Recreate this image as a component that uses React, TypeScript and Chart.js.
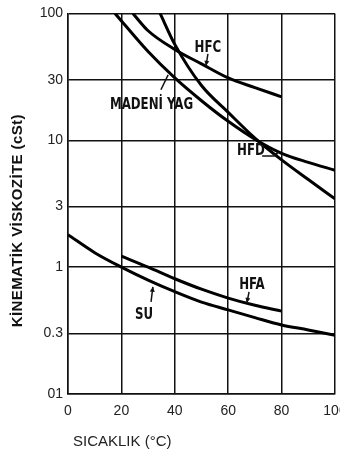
import React, { useEffect, useRef } from "react";
import { Chart, registerables } from "chart.js";

Chart.register(...registerables);

// ---- Data ----
const xTickValues = [0, 20, 40, 60, 80, 100];
const yTickValues = [0.1, 0.3, 1, 3, 10, 30, 100];
const yTickLabels = ["01", "0.3", "1", "3", "10", "30", "100"];

const hfcT = [24.3, 30, 40, 50, 60, 70, 80];
const hfcV = [100, 73, 52, 40, 31, 26, 22];

const madeniT = [17.6, 30, 40, 50, 60, 70, 80, 90, 100];
const madeniV = [100, 50, 31, 20.5, 14.1, 10.2, 7.9, 6.7, 5.8];

const hfdT = [34.5, 40, 50, 60, 70, 80, 90, 100];
const hfdV = [100, 57, 27, 16.6, 10.4, 7.0, 4.9, 3.45];

const hfaT = [20, 30, 40, 50, 60, 70, 80];
const hfaV = [1.22, 1.0, 0.81, 0.67, 0.57, 0.5, 0.45];

const suT = [0, 10, 20, 30, 40, 50, 60, 70, 80, 90, 100];
const suV = [1.8, 1.3, 1.0, 0.79, 0.64, 0.53, 0.46, 0.4, 0.35, 0.32, 0.29];

const xTitle = "SICAKLIK (°C)";
const yTitle = "KİNEMATİK VİSKOZİTE (cSt)";

// annotation labels (anchored in data coordinates)
const labels = [
  { text: "HFC", t: 52.4, v: 54, align: "center" },
  { text: "MADENİ YAG", t: 15.7, v: 19.1, align: "left" },
  { text: "HFD", t: 63.3, v: 8.2, align: "left" },
  { text: "HFA", t: 68.9, v: 0.72, align: "center" },
  { text: "SU", t: 28.5, v: 0.42, align: "center" },
];

// pointer lines: list of [t, v] points, optional arrowhead at end
const pointers = [
  { pts: [[52.4, 47.9], [51.7, 38.6]], head: true },
  { pts: [[34.8, 25], [37.5, 32.8]], head: false },
  { pts: [[72.7, 7.5], [77.2, 7.5], [78.7, 8.06]], head: true },
  { pts: [[67.8, 0.638], [67.0, 0.523]], head: true },
  { pts: [[31.1, 0.533], [31.8, 0.7]], head: true },
];

const toXY = (ts: number[], vs: number[]) => ts.map((t, i) => ({ x: t, y: vs[i] }));

const INK = "#111";
const TEXT = "#222";
const SANS = '"Liberation Sans", Arial, sans-serif';

const annotationPlugin = {
  id: "annotations",
  afterDatasetsDraw(chart: any) {
    const { ctx, scales, chartArea } = chart;
    const xs = scales.x;
    const ys = scales.y;
    ctx.save();
    ctx.fillStyle = INK;
    ctx.strokeStyle = INK;
    ctx.font = 'bold 16px "Liberation Sans Narrow", "DejaVu Sans Condensed", sans-serif';
    ctx.textBaseline = "middle";
    const sx = 0.82;
    for (const l of labels) {
      ctx.save();
      ctx.textAlign = l.align as CanvasTextAlign;
      ctx.translate(xs.getPixelForValue(l.t), ys.getPixelForValue(l.v));
      ctx.scale(sx, 1);
      ctx.fillText(l.text, 0, 0);
      ctx.restore();
    }
    ctx.lineWidth = 1.5;
    for (const p of pointers) {
      const px = p.pts.map(([t, v]) => [xs.getPixelForValue(t), ys.getPixelForValue(v)]);
      ctx.beginPath();
      ctx.moveTo(px[0][0], px[0][1]);
      for (let i = 1; i < px.length; i++) ctx.lineTo(px[i][0], px[i][1]);
      ctx.stroke();
      if (p.head) {
        const [x1, y1] = px[px.length - 2];
        const [x2, y2] = px[px.length - 1];
        const a = Math.atan2(y2 - y1, x2 - x1);
        const L = 5, W = 2.5;
        ctx.beginPath();
        ctx.moveTo(x2, y2);
        ctx.lineTo(x2 - L * Math.cos(a) + W * Math.sin(a), y2 - L * Math.sin(a) - W * Math.cos(a));
        ctx.lineTo(x2 - L * Math.cos(a) - W * Math.sin(a), y2 - L * Math.sin(a) + W * Math.cos(a));
        ctx.closePath();
        ctx.fill();
      }
    }
    // axis titles
    ctx.fillStyle = TEXT;
    ctx.font = "15px " + SANS;
    ctx.textAlign = "left";
    ctx.textBaseline = "middle";
    ctx.fillText(xTitle, chartArea.left + 5, chartArea.bottom + 48);
    ctx.save();
    ctx.translate(18, (chartArea.top + chartArea.bottom) / 2 + 17);
    ctx.rotate(-Math.PI / 2);
    ctx.font = "bold 15px " + SANS;
    ctx.fillStyle = INK;
    ctx.textAlign = "center";
    (ctx as any).letterSpacing = "0.4px";
    ctx.fillText(yTitle, 0, 0);
    ctx.restore();
    ctx.restore();
  },
};

export default function App() {
  const ref = useRef<HTMLCanvasElement>(null);
  useEffect(() => {
    document.body.style.margin = "0";
    const line = (data: any) => ({
      data,
      borderColor: "#000",
      borderWidth: 3,
      pointRadius: 0,
      fill: false,
      cubicInterpolationMode: "monotone" as const,
      tension: 0.4,
    });
    const chart = new Chart(ref.current!, {
      type: "line",
      data: {
        datasets: [
          { label: "HFC", ...line(toXY(hfcT, hfcV)) },
          { label: "MADENİ YAG", ...line(toXY(madeniT, madeniV)) },
          { label: "HFD", ...line(toXY(hfdT, hfdV)) },
          { label: "HFA", ...line(toXY(hfaT, hfaV)) },
          { label: "SU", ...line(toXY(suT, suV)) },
        ],
      },
      options: {
        animation: false,
        responsive: false,
        layout: { padding: { top: 10, right: 5, left: 0, bottom: 0 } },
        plugins: { legend: { display: false }, tooltip: { enabled: false } },
        scales: {
          x: {
            type: "linear",
            min: 0,
            max: 100,
            afterBuildTicks: (s: any) => {
              s.ticks = xTickValues.map((v) => ({ value: v }));
            },
            ticks: {
              color: TEXT,
              font: { family: SANS, size: 14 },
              padding: 9,
              maxRotation: 0,
              autoSkip: false,
            },
            grid: { color: INK, lineWidth: 1.5, drawTicks: false },
            border: { display: true, color: INK, width: 1.5 },
            afterFit: (s: any) => {
              s.height = 67;
              s.paddingLeft = 0;
              s.paddingRight = 0;
            },
          },
          y: {
            type: "logarithmic",
            min: 0.1,
            max: 100,
            afterBuildTicks: (s: any) => {
              s.ticks = yTickValues.map((v) => ({ value: v }));
            },
            ticks: {
              color: TEXT,
              font: { family: SANS, size: 14 },
              padding: 5,
              autoSkip: false,
              callback: (_v: any, i: number) => yTickLabels[i],
            },
            grid: { color: INK, lineWidth: 1.5, drawTicks: false },
            border: { display: true, color: INK, width: 1.5 },
            afterFit: (s: any) => {
              s.width = 68;
            },
          },
        },
      },
      plugins: [annotationPlugin],
    });
    return () => chart.destroy();
  }, []);
  return (
    <div style={{ width: 340, height: 461 }}>
      <canvas ref={ref} width={340} height={461} style={{ display: "block" }} />
    </div>
  );
}
